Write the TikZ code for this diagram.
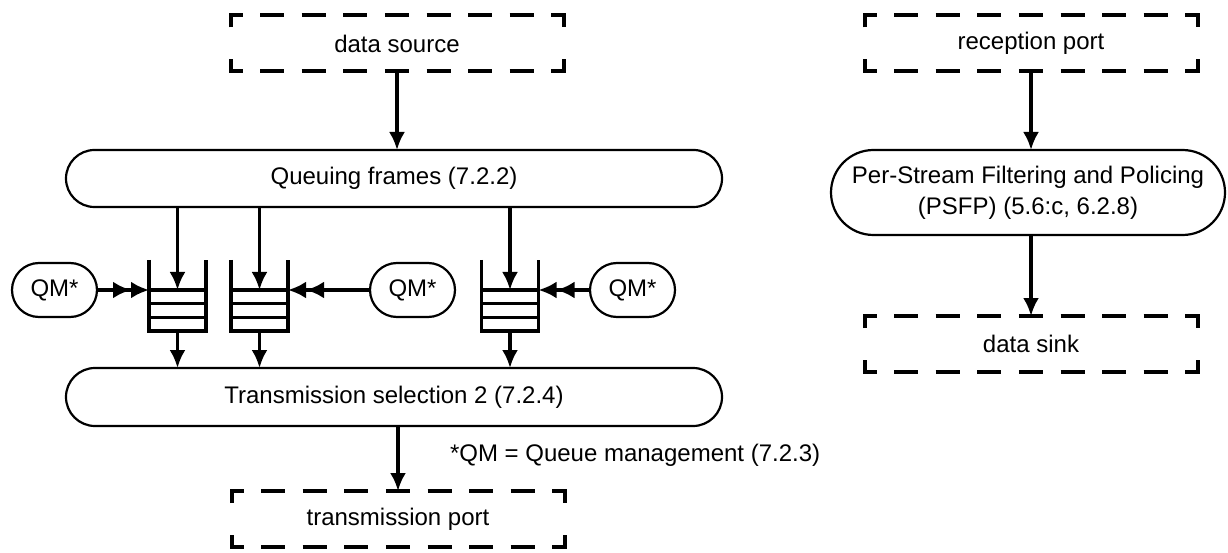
\documentclass[tikz,border=0pt]{standalone}
\usepackage{fontspec}
\setmainfont{Liberation Sans}
\usetikzlibrary{arrows.meta, shapes.misc, calc}

\newcommand\dashframe[1]{%
  \draw[frame] ([yshift=-12pt]#1.north west) -- (#1.north west) -- ([xshift=12pt]#1.north west);
  \draw[frame] ([xshift=-12pt]#1.north east) -- (#1.north east) -- ([yshift=-12pt]#1.north east);
  \draw[frame] ([yshift=12pt]#1.south west) -- (#1.south west) -- ([xshift=12pt]#1.south west);
  \draw[frame] ([xshift=-12pt]#1.south east) -- (#1.south east) -- ([yshift=12pt]#1.south east);
  \draw[frame, dash pattern=on 24pt off 17.6pt, dash phase=24pt]
    ([xshift=12pt]#1.north west) -- ([xshift=-12pt]#1.north east);
  \draw[frame, dash pattern=on 24pt off 17.6pt, dash phase=24pt]
    ([xshift=12pt]#1.south west) -- ([xshift=-12pt]#1.south east);
}

\begin{document}
\begin{tikzpicture}[x=1pt, y=-1pt, >={Latex[length=18pt,width=16pt]},
    every node/.style={font=\fontsize{24}{31}\selectfont, inner sep=0pt, outer sep=0pt},
    pill/.style={draw, rounded rectangle, line width=2.2pt},
    port/.style={minimum width=333pt, minimum height=56pt},
    frame/.style={line width=4pt, line join=miter},
    edge/.style={line width=3.4pt, line join=miter},
    flow/.style={edge, ->},
    push/.style={edge, -{Latex[length=18pt,width=17pt]Latex[length=18pt,width=17pt]}}]
  \useasboundingbox (0,0) rectangle (1228,553);

  \node[port] (src) at (397,43.5) {data source};
  \node[pill, minimum width=656pt, minimum height=57pt] (qf) at (394,178.5) {Queuing frames (7.2.2)};
  \node[pill, minimum width=656pt, minimum height=58pt] (ts) at (394,397) {Transmission selection 2 (7.2.4)};
  \node[port] (tp) at (398,519) {transmission port};
  \node[anchor=west] (note) at (450,455) {*QM = Queue management (7.2.3)};

  \node[port] (rp) at (1031,43.5) {reception port};
  \node[pill, align=center, minimum width=394pt, minimum height=85pt] (ps) at (1028,192.5)
    {Per-Stream Filtering and Policing\\(PSFP) (5.6:c, 6.2.8)};
  \node[port] (sink) at (1031,344) {data sink};

  \foreach \n in {src, tp, rp, sink} {\dashframe{\n}}

  \foreach \q/\x in {q1/177.5, q2/259.5, q3/510} {
    \node[minimum width=57pt, minimum height=41pt] (\q) at (\x,310.5) {};
    \draw[edge] ([yshift=30pt]\q.north west) -- (\q.south west) -- (\q.south east) -- ([yshift=30pt]\q.north east);
    \draw[edge] (\q.north west) -- (\q.north east);
    \draw[edge] ($(\q.north west)!1/3!(\q.south west)$) -- ($(\q.north east)!1/3!(\q.south east)$);
    \draw[edge] ($(\q.north west)!2/3!(\q.south west)$) -- ($(\q.north east)!2/3!(\q.south east)$);
    \draw[flow] (qf.south -| \q) -- (\q.north);
    \draw[flow] (\q.south) -- (\q.south |- ts.north);
  }

  \node[pill, minimum width=85pt, minimum height=54pt] (qm1) at (54.5,290) {QM*};
  \node[pill, minimum width=85pt, minimum height=54pt] (qm2) at (412.5,290) {QM*};
  \node[pill, minimum width=85pt, minimum height=54pt] (qm3) at (632.5,290) {QM*};
  \draw[push] (qm1.east) -- (q1.north west);
  \draw[push] (qm2.west) -- (q2.north east);
  \draw[push] (qm3.west) -- (q3.north east);

  \draw[flow] (src.south) -- (src.south |- qf.north);
  \draw[flow] (ts.south -| tp) -- (tp.north);
  \draw[flow] (rp.south) -- (rp.south |- ps.north);
  \draw[flow] (sink.north |- ps.south) -- (sink.north);
\end{tikzpicture}
\end{document}
